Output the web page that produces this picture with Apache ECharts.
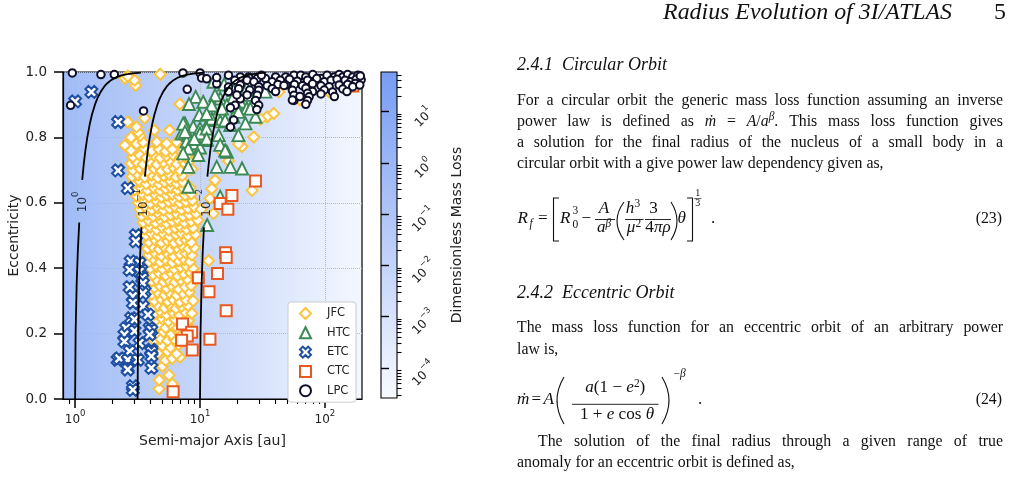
<!DOCTYPE html>
<html><head><meta charset="utf-8">
<script src="https://cdn.jsdelivr.net/npm/echarts@6.0.0/dist/echarts.min.js"></script>
<style>html,body{margin:0;padding:0;background:#fff}#c{width:1010px;height:479px}</style>
</head><body><div id="c"></div>
<script>
// ---------------- DATA ----------------
// [semi-major axis au, eccentricity]
const jfc = [
[4.7,0.031],[6.0,0.046],[4.7,0.058],[5.65,0.073],[5.0,0.10],
[5.3,0.118],[6.0,0.124],[6.9,0.128],[4.6,0.14],[5.5,0.145],[6.5,0.138],
[4.4,0.16],[5.0,0.163],[5.8,0.158],[6.7,0.166],
[4.3,0.18],[4.8,0.185],[5.5,0.178],[6.2,0.183],[7.3,0.176],
[4.4,0.20],[5.1,0.205],[5.9,0.198],[6.8,0.202],[7.6,0.21],
[4.2,0.22],[4.7,0.226],[5.3,0.218],[6.0,0.224],[6.6,0.217],[7.9,0.228],
[4.4,0.24],[5.0,0.245],[5.6,0.238],[6.3,0.243],[7.2,0.247],[8.1,0.24],
[4.3,0.26],[4.9,0.265],[5.4,0.258],[6.1,0.263],[6.8,0.257],[7.6,0.266],[8.6,0.262],
[4.2,0.28],[4.6,0.285],[5.2,0.278],[5.8,0.284],[6.4,0.277],[7.1,0.283],[8.0,0.286],
[4.3,0.30],[4.9,0.305],[5.5,0.298],[6.1,0.304],[6.9,0.297],[7.7,0.303],[8.8,0.30],
[4.1,0.32],[4.6,0.325],[5.2,0.318],[5.7,0.324],[6.5,0.317],[7.3,0.323],[8.2,0.327],
[4.3,0.34],[4.8,0.345],[5.4,0.338],[6.0,0.344],[6.7,0.337],[7.6,0.343],[8.5,0.347],
[4.1,0.36],[4.5,0.365],[5.1,0.358],[5.6,0.364],[6.3,0.357],[7.0,0.363],[7.9,0.366],
[4.2,0.38],[4.7,0.385],[5.3,0.378],[5.9,0.384],[6.6,0.377],[7.4,0.383],[8.4,0.386],[9.3,0.379],
[4.0,0.40],[4.5,0.405],[5.0,0.398],[5.6,0.404],[6.2,0.397],[7.0,0.403],[7.8,0.406],[8.8,0.399],
[3.9,0.42],[4.3,0.425],[4.8,0.418],[5.4,0.424],[6.0,0.417],[6.7,0.423],[7.5,0.426],[8.3,0.419],[11.7,0.423],
[3.9,0.44],[4.4,0.445],[4.9,0.438],[5.5,0.444],[6.1,0.437],[6.9,0.443],[7.7,0.446],[8.6,0.44],
[3.8,0.46],[4.2,0.465],[4.7,0.458],[5.2,0.464],[5.8,0.457],[6.5,0.463],[7.3,0.466],[8.1,0.459],[9.0,0.463],
[3.9,0.48],[4.4,0.485],[4.9,0.478],[5.5,0.484],[6.2,0.477],[6.9,0.483],[7.7,0.486],[8.5,0.479],
[3.7,0.50],[4.1,0.505],[4.6,0.498],[5.1,0.504],[5.7,0.497],[6.4,0.503],[7.1,0.506],[8.0,0.499],[9.2,0.503],
[3.6,0.52],[4.0,0.525],[4.5,0.518],[5.0,0.524],[5.6,0.517],[6.3,0.523],[7.0,0.526],[7.8,0.519],[8.8,0.523],
[3.5,0.54],[3.9,0.545],[4.4,0.538],[4.9,0.544],[5.4,0.537],[6.0,0.543],[6.7,0.546],[7.5,0.539],[8.5,0.543],[9.6,0.547],
[3.4,0.56],[3.8,0.565],[4.2,0.558],[4.7,0.564],[5.2,0.557],[5.8,0.563],[6.5,0.566],[7.3,0.559],[8.2,0.563],[9.3,0.567],[12.8,0.567],
[3.3,0.58],[3.7,0.585],[4.1,0.578],[4.6,0.584],[5.1,0.577],[5.7,0.583],[6.4,0.586],[7.1,0.579],[8.0,0.583],[9.0,0.587],[10.2,0.58],
[3.2,0.60],[3.6,0.605],[4.0,0.598],[4.5,0.604],[5.0,0.597],[5.6,0.603],[6.2,0.606],[6.9,0.599],[7.7,0.603],[8.7,0.607],[12.0,0.613],
[3.1,0.62],[3.5,0.625],[3.9,0.618],[4.4,0.624],[4.9,0.617],[5.4,0.623],[6.0,0.626],[6.8,0.619],[7.6,0.623],[8.5,0.627],
[3.0,0.64],[3.4,0.645],[3.8,0.638],[4.3,0.644],[4.8,0.637],[5.3,0.643],[5.9,0.646],[6.6,0.639],[7.4,0.643],[8.3,0.647],[12.4,0.643],[26.1,0.638],
[2.9,0.66],[3.3,0.665],[3.7,0.658],[4.2,0.664],[4.7,0.657],[5.2,0.663],[5.8,0.666],[6.5,0.659],[7.3,0.663],[13.2,0.669],
[2.85,0.68],[3.2,0.685],[3.6,0.678],[4.1,0.684],[4.6,0.677],[5.1,0.683],[5.7,0.686],[6.4,0.679],[7.2,0.683],
[2.9,0.70],[3.3,0.705],[3.8,0.698],[4.3,0.704],[4.9,0.697],[5.5,0.703],[6.2,0.706],[6.9,0.699],[8.6,0.703],
[2.8,0.72],[3.1,0.725],[3.5,0.718],[4.0,0.724],[4.5,0.717],[5.1,0.723],[5.8,0.726],[6.5,0.719],[7.4,0.723],[8.2,0.727],[16.9,0.728],
[2.9,0.74],[3.3,0.745],[3.7,0.738],[4.3,0.744],[4.8,0.737],[5.4,0.743],[6.1,0.746],[7.0,0.739],[7.8,0.743],[9.4,0.749],[15.9,0.75],
[2.8,0.76],[3.6,0.765],[4.1,0.758],[4.7,0.764],[5.3,0.757],[6.0,0.763],[7.3,0.766],[14.9,0.758],
[2.5,0.776],[3.1,0.78],[3.5,0.785],[4.5,0.786],[5.4,0.781],[6.5,0.786],[21.7,0.772],[20.3,0.78],
[2.8,0.80],[3.3,0.805],[4.3,0.822],[5.7,0.822],[26.9,0.801],[11.0,0.796],
[3.2,0.815],[3.1,0.832],[2.64,0.847],[3.6,0.859],
[34.5,0.863],[38.9,0.873],[30.5,0.855],
[6.9,0.902],[63,0.915],[42.8,0.939],[108,0.939],
[3.05,0.959],[2.99,0.975],[2.5,0.981],[2.64,0.987],[4.8,0.993]
];
const htc = [
[9.23,0.924],[8.16,0.902],[10.6,0.909],[9.87,0.869],[11.9,0.853],[7.58,0.843],[8.83,0.833],[10.0,0.828],
[7.12,0.812],[8.05,0.807],[10.0,0.812],[11.9,0.807],[7.81,0.787],[9.09,0.782],[11.3,0.792],[8.05,0.766],
[10.0,0.769],[7.33,0.751],[14.1,0.807],[16.4,0.756],[13.6,0.710],[17.5,0.710],[21.7,0.705],[8.05,0.710],
[8.05,0.649],[14.5,0.619],[11.4,0.532],[12.8,0.970],[15.6,0.962],[18.5,0.945],[23.7,0.950],[33.3,0.940],
[14.5,0.919],[18.5,0.924],[21.0,0.909],[24.5,0.930],[16.4,0.899],[19.8,0.894],[23.7,0.889],[26.9,0.909],
[13.6,0.869],[18.5,0.863],[23.1,0.843],[27.8,0.863],[14.5,0.849],[17.5,0.838],[20.3,0.807],[14.5,0.777],
[9.69,0.746],[13.2,0.929],[12.4,0.898],[15.0,0.888],[20.3,0.878],[25.3,0.888],[12.4,0.857],[15.9,0.852],
[11.3,0.827],[15.9,0.760],[11.3,0.872],[7.33,0.842],[7.58,0.817],[11.3,0.796],[9.0,0.795]
];
const etcPts = [
[1.35,0.939],[1.0,0.910],[2.21,0.847],[2.21,0.699],[2.64,0.645],
[3.06,0.501],[3.06,0.482],[2.78,0.421],[3.28,0.416],[2.73,0.395],[3.39,0.395],[3.28,0.389],[3.45,0.370],
[2.73,0.342],[3.49,0.354],[3.60,0.329],[3.49,0.323],[2.90,0.314],[2.90,0.294],[3.49,0.283],[3.83,0.258],
[2.81,0.247],[2.99,0.243],[2.56,0.217],[3.95,0.217],[4.08,0.211],[2.99,0.208],[2.48,0.197],[3.95,0.197],
[2.48,0.176],[3.28,0.171],[2.73,0.146],[4.08,0.151],[4.08,0.145],[2.19,0.120],[2.26,0.124],[2.64,0.120],
[3.18,0.120],[4.08,0.131],[2.64,0.095],[4.08,0.095],[2.64,0.090],[2.90,0.039],[2.90,0.028]
];
const ctc = [
[27.8,0.667],[18.0,0.622],[14.5,0.598],[16.7,0.580],[16.0,0.447],[16.2,0.433],[13.8,0.384],[9.69,0.371],
[11.8,0.328],[16.2,0.270],[7.25,0.229],[8.57,0.204],[7.90,0.193],[7.12,0.180],[12.0,0.183],[8.67,0.150],
[6.09,0.022],[167,0.957]
];
const lpc = [
[0.92,0.898],[0.95,0.997],[1.61,0.992],[2.06,0.992],[3.53,0.881],[7.9,0.947],[7.3,0.997],[10.0,0.997],[10.3,0.982],[11.3,0.979],
[13.6,0.964],[16.9,0.990],[21.0,0.985],[24.5,0.985],[28.7,0.980],[33.4,0.980],[40.3,0.985],[48.5,0.985],[56.5,0.990],[64,0.990],
[70.3,0.985],[80,0.992],[92.9,0.980],[104,0.990],[119,0.985],[130,0.992],[139,0.985],[152,0.992],[167,0.985],[184,0.990],[195,0.976],
[13.6,0.983],[19.0,0.975],[23.8,0.975],[27.0,0.970],[31,0.990],[37.8,0.970],[44,0.975],[52,0.978],[60,0.972],[72.5,0.975],
[86,0.980],[98.7,0.970],[112,0.975],[125,0.978],[145,0.975],[160,0.970],[178,0.978],[192,0.988],
[16.9,0.954],[21,0.96],[29.5,0.955],[34.5,0.958],[42,0.962],[48.5,0.960],[57,0.962],[66,0.958],[79.6,0.964],[92.9,0.958],
[108,0.955],[130,0.96],[152,0.962],[175,0.965],
[16.9,0.940],[20.4,0.949],[25,0.945],[37.8,0.949],[47,0.959],[54.9,0.944],[70.3,0.950],[79.6,0.940],[98.7,0.945],[115,0.939],
[139,0.948],[167,0.955],[190,0.96],
[23.8,0.93],[29.5,0.944],[40.3,0.94],[56.5,0.929],[72.5,0.935],[92.9,0.933],[119,0.925],[150,0.940],
[21,0.918],[28.7,0.929],[27.8,0.913],[56.5,0.913],[74.7,0.924],[72.5,0.913],[54.9,0.914],[70.3,0.901],[63,0.925],
[29.5,0.898],[19.1,0.898],[17.5,0.891],[18.6,0.853],[17.5,0.832],[19.7,0.93],[28.5,0.885]
];
// contour lines of the dimensionless mass loss, split around the inline labels
const contour0Lower = [[1.0,0],[1.009,0.2],[1.029,0.35],[1.051,0.45],[1.079,0.54]];
const contour0Upper = [[1.140,0.67],[1.174,0.72],[1.209,0.76],[1.252,0.8],[1.309,0.84],[1.365,0.87],[1.441,0.9],[1.510,0.92],[1.605,0.94],[1.707,0.955],[1.802,0.965],[1.939,0.975],[2.107,0.983],[2.318,0.989],[2.558,0.993],[2.895,0.996],[3.37,0.998]];
const contour1Lower = [[3.162,0],[3.191,0.2],[3.254,0.35],[3.323,0.45],[3.40,0.525]];
const contour1Upper = [[3.62,0.68],[3.712,0.72],[3.823,0.76],[3.959,0.8],[4.139,0.84],[4.316,0.87],[4.557,0.9],[4.775,0.92],[5.075,0.94],[5.398,0.955],[5.698,0.965],[6.131,0.975],[6.662,0.983],[7.330,0.989],[8.089,0.993],[9.154,0.996],[10.66,0.998]];
const contour2Lower = [[10,0],[10.09,0.2],[10.29,0.35],[10.51,0.45],[10.75,0.525]];
const contour2Upper = [[11.45,0.68],[11.74,0.72],[12.09,0.76],[12.52,0.8],[13.09,0.84],[13.65,0.87],[14.41,0.9],[15.10,0.92],[16.05,0.94],[17.07,0.955],[18.02,0.965],[19.39,0.975],[21.07,0.983],[23.18,0.989],[25.58,0.993],[28.95,0.996],[33.7,0.998]];
const contourLabels = [['0',1.10,0.603],['\u22121',3.42,0.60],['\u22122',10.8,0.60]];
// ticks
const majorX = [1,10,100];
const minorX = [0.9,2,3,4,5,6,7,8,9,20,30,40,50,60,70,80,90];
const majorC = [1e-4,1e-3,1e-2,1e-1,1,10];
const minorC = [3e-5,4e-5,5e-5,6e-5,7e-5,8e-5,9e-5,2e-4,3e-4,4e-4,5e-4,6e-4,7e-4,8e-4,9e-4,
 2e-3,3e-3,4e-3,5e-3,6e-3,7e-3,8e-3,9e-3,0.02,0.03,0.04,0.05,0.06,0.07,0.08,0.09,
 0.2,0.3,0.4,0.5,0.6,0.7,0.8,0.9,2,3,4,5,6,7,8,9,20,30,40,50];
const legendNames = ['JFC','HTC','ETC','CTC','LPC'];

// ---------------- CHART ----------------
const SANS = 'DejaVu Sans';
const TXT = '#222';
function powLabel(v){ const n = Math.round(Math.log10(v)); return '{b|10}{s|' + String(n).replace('-', '\u2212') + '}'; }
const supRich = {
  b: {fontSize: 12, fontFamily: SANS, color: TXT, lineHeight: 13, padding: [5,0,0,0]},
  s: {fontSize: 8.5, fontFamily: SANS, color: TXT, lineHeight: 10, padding: [0,0,8,0]}
};
const XPATH = 'path://M2.6,0L5,2.4L7.4,0L10,2.6L7.6,5L10,7.4L7.4,10L5,7.6L2.6,10L0,7.4L2.4,5L0,2.6Z';
function sc(name, data, symbol, size, col, bw){
  return {name, type:'scatter', xAxisIndex:0, yAxisIndex:0, data, symbol, symbolSize:size,
    itemStyle:{color:'#ffffff', borderColor:col, borderWidth:bw, opacity:1}, emphasis:{disabled:true}, z:2};
}
function cl(data){
  return {type:'line', xAxisIndex:0, yAxisIndex:0, data, showSymbol:false, symbol:'none', silent:true,
    lineStyle:{color:'#000', width:1.8}, z:3};
}

// ---------------- PAGE TEXT (graphic) ----------------
const mctx = document.createElement('canvas').getContext('2d');
const SERIF = '"Liberation Serif", "Times New Roman", serif';
function fnt(sz,it){ return (it?'italic ':'') + sz + 'px ' + SERIF; }
function mw(t,sz,it){ mctx.font = fnt(sz,it); return mctx.measureText(t).width; }
const INK = '#111111';
const els = [];
function tb(x, base, t, sz, it, align){
  const a = align || 'left';
  els.push({type:'text', silent:true, x:x, y:base - 0.3375*sz,
    style:{text:t, font:fnt(sz,it), fill:INK, textAlign:a, textVerticalAlign:'middle', align:a, verticalAlign:'middle'}});
}
function hline(x1,x2,y,w){ els.push({type:'line', silent:true, shape:{x1:x1,y1:y,x2:x2,y2:y}, style:{stroke:INK, lineWidth:w||0.9}}); }
function poly(pts){ els.push({type:'polyline', silent:true, shape:{points:pts}, style:{stroke:INK, lineWidth:1.1, fill:null}}); }
function paren(xl, xr, y1, y2, left){
  const xe = left ? xr : xl, xc = left ? xr - 2*(xr-xl) : xl + 2*(xr-xl);
  els.push({type:'bezierCurve', silent:true, shape:{x1:xe,y1:y1,x2:xe,y2:y2,cpx1:xc,cpy1:(y1+y2)/2}, style:{stroke:INK, lineWidth:1.1, fill:null}});
}
function seq(x, base, parts, center){
  const w = parts.reduce((s,p)=>s+mw(p[0],p[1],p[2]),0);
  let xx = center ? x - w/2 : x;
  parts.forEach(p=>{ tb(xx, base + (p[3]||0), p[0], p[1], p[2]); xx += mw(p[0],p[1],p[2]); });
}
function jline(words, x0, x1, base, sz, justify){
  const ws = words.map(w => (typeof w === 'string' ? [[w,sz,false,0]] : w));
  const wid = ws.map(w => w.reduce((s,p)=>s+mw(p[0],p[1],p[2]),0));
  const tot = wid.reduce((a,b)=>a+b,0);
  const gap = justify ? (x1-x0-tot)/(ws.length-1) : mw(' ',sz,false);
  let x = x0;
  ws.forEach((w,i)=>{ let xx = x; w.forEach(p=>{ tb(xx, base+(p[3]||0), p[0], p[1], p[2]); xx += mw(p[0],p[1],p[2]); }); x += wid[i] + gap; });
}

let bs = 16 * 367 / mw('circular orbit with a give power law dependency given as,', 16, false);
bs = Math.max(15, Math.min(17.5, bs));
const hs = 22 * 289 / mw('Radius Evolution of 3I/ATLAS', 22, true);
const ss = 16 * 105 / mw('Circular Orbit', 16, true);
const ms = bs * 1.08;
const sm = bs * 0.72;

tb(952, 21, 'Radius Evolution of 3I/ATLAS', hs, true, 'right');
tb(1006, 21, '5', hs, false, 'right');
tb(517, 71, '2.4.1', ss, true);
tb(562, 71, 'Circular Orbit', ss, true);
const L = 517, R = 1003;
jline('For a circular orbit the generic mass loss function assuming an inverse'.split(' '), L, R, 106, bs, true);
jline(['power','law','is','defined','as',[['\u1E41',bs,true,0]],[['=',bs,false,0]],
  [['A',bs,true,0],['/',bs,false,0],['a',bs,true,0],['\u03B2',sm,true,-6],['.',bs,false,0]],
  'This','mass','loss','function','gives'], L, R, 127, bs, true);
jline('a solution for the final radius of the nucleus of a small body in a'.split(' '), L, R, 148, bs, true);
jline('circular orbit with a give power law dependency given as,'.split(' '), L, R, 169, bs, false);
// equation 23
tb(517.5, 224, 'R', ms, true); tb(529.5, 227.5, 'f', sm, true);
tb(538, 224, '=', ms, false);
poly([[559,198],[553.5,198],[553.5,241],[559,241]]);
tb(560, 224, 'R', ms, true); tb(572.5, 214.5, '3', sm, false); tb(572.5, 229, '0', sm, false);
tb(581.5, 224, '\u2212', ms, false);
seq(604, 214, [['A',ms,true,0]], true);
hline(595, 615, 219.5);
seq(604, 233, [['a',ms,true,0],['\u03B2',sm,true,-5]], true);
paren(617, 624, 202, 240, true);
seq(633, 214, [['h',ms,true,0],['3',sm,false,-6]], true);
hline(625, 643.5, 219.5);
seq(634, 233, [['\u03BC',ms,true,0],['2',sm,false,-5]], true);
seq(653.5, 214, [['3',ms,false,0]], true);
hline(645, 671, 219.5);
seq(658, 233, [['4',ms,false,0],['\u03C0\u03C1',ms,true,0]], true);
paren(671, 677, 202, 240, false);
tb(677.5, 224, '\u03B8', ms, true);
poly([[687,198],[692.5,198],[692.5,241],[687,241]]);
seq(697.8, 196.5, [['1',10,false,0]], true);
hline(694.2, 701.4, 198.6, 0.7);
seq(697.8, 206.8, [['3',10,false,0]], true);
tb(711, 224, '.', ms, false);
tb(1002, 224, '(23)', bs, false, 'right');
// 2.4.2
tb(517, 299, '2.4.2', ss, true);
tb(562, 299, 'Eccentric Orbit', ss, true);
jline('The mass loss function for an eccentric orbit of an arbitrary power'.split(' '), L, R, 333, bs, true);
jline('law is,'.split(' '), L, R, 355, bs, false);
// equation 24
tb(517, 405, '\u1E41', ms, true);
tb(531.5, 405, '=', ms, false);
tb(543.5, 405, 'A', ms, true);
paren(557, 564, 377, 424, true);
seq(615.3, 393.5, [['a',ms,true,0],['(1 \u2212 ',ms,false,0],['e',ms,true,0],['2',sm,false,-6],[')',ms,false,0]], true);
hline(572, 658.5, 404.3);
seq(617, 420, [['1 + ',ms,false,0],['e',ms,true,0],[' cos ',ms,false,0],['\u03B8',ms,true,0]], true);
paren(662, 669, 377, 424, false);
seq(673.5, 378, [['\u2212',sm,false,0],['\u03B2',sm,true,0]], false);
tb(698, 405, '.', ms, false);
tb(1002, 405, '(24)', bs, false, 'right');
jline('The solution of the final radius through a given range of true'.split(' '), 538, R, 447, bs, true);
jline('anomaly for an eccentric orbit is defined as,'.split(' '), L, R, 468, bs, false);

// ---------------- OPTION ----------------
const chart = echarts.init(document.getElementById('c'), null, {renderer:'canvas'});
const option = {
  animation: false,
  backgroundColor: '#ffffff',
  textStyle: {fontFamily: SANS},
  grid: [
    {left:63, top:72, width:299, height:327, show:true, borderColor:'#000', borderWidth:1.2,
     backgroundColor: new echarts.graphic.LinearGradient(0,0,1,0,[{offset:0,color:'#a0bbf6'},{offset:1,color:'#f4f7fe'}])},
    {left:381, top:72, width:16, height:326, show:true, borderColor:'#000', borderWidth:1.1,
     backgroundColor: new echarts.graphic.LinearGradient(0,0,0,1,[{offset:0,color:'#769cf3'},{offset:1,color:'#f8faff'}])}
  ],
  xAxis: [
    {gridIndex:0, type:'log', logBase:10, min:0.8, max:198,
     axisLine:{show:true, lineStyle:{color:'#000', width:1.2}},
     axisTick:{show:true, customValues:majorX, length:9, lineStyle:{color:'#000', width:1.5}},
     axisLabel:{show:true, customValues:majorX, formatter:powLabel, rich:supRich, margin:12},
     splitLine:{show:true, lineStyle:{color:'#b9b9b9', type:'dotted', width:1}},
     name:'Semi-major Axis [au]', nameLocation:'middle', nameGap:35,
     nameTextStyle:{fontSize:14, fontFamily:SANS, color:TXT}},
    {gridIndex:0, type:'log', logBase:10, min:0.8, max:198, position:'bottom',
     axisLine:{show:false}, axisTick:{show:true, customValues:minorX, length:5, lineStyle:{color:'#000', width:1.1}},
     axisLabel:{show:false}, splitLine:{show:false}},
    {gridIndex:1, type:'value', min:0, max:1, show:false}
  ],
  yAxis: [
    {gridIndex:0, type:'value', min:0, max:1, interval:0.2,
     axisLine:{show:true, lineStyle:{color:'#000', width:1.2}},
     axisTick:{show:true, length:9, lineStyle:{color:'#000', width:1.5}},
     axisLabel:{formatter:v=>v.toFixed(1), fontSize:13.5, fontFamily:SANS, color:TXT, margin:16},
     splitLine:{show:true, lineStyle:{color:'#b9b9b9', type:'dotted', width:1}},
     name:'Eccentricity', nameLocation:'middle', nameGap:42,
     nameTextStyle:{fontSize:14, fontFamily:SANS, color:TXT}},
    {gridIndex:1, type:'log', logBase:10, min:2.6e-5, max:59, position:'right',
     axisLine:{show:false},
     axisTick:{show:true, customValues:majorC, length:8, lineStyle:{color:'#000', width:1.4}},
     axisLabel:{show:true, customValues:majorC, formatter:powLabel, rich:supRich, rotate:45, align:'center', verticalAlign:'top', margin:21},
     splitLine:{show:false},
     name:'Dimensionless Mass Loss', nameLocation:'middle', nameGap:53, nameRotate:90,
     nameTextStyle:{fontSize:14, fontFamily:SANS, color:TXT}},
    {gridIndex:1, type:'log', logBase:10, min:2.6e-5, max:59, position:'right',
     axisLine:{show:false},
     axisTick:{show:true, customValues:minorC, length:4.5, lineStyle:{color:'#000', width:1.1}},
     axisLabel:{show:false}, splitLine:{show:false}}
  ],
  legend: {
    data: legendNames, orient:'vertical', left:288, top:302, selectedMode:false,
    backgroundColor:'#ffffff', borderColor:'#cccccc', borderWidth:1, borderRadius:3,
    padding:[5,6,5,11], itemWidth:11, itemHeight:11, itemGap:6.3,
    textStyle:{fontSize:11.5, fontFamily:SANS, color:TXT, padding:[0,0,0,11]}
  },
  series: [
    sc('JFC', jfc, 'diamond', 11, '#fcc43e', 2),
    sc('HTC', htc, 'triangle', 12, '#3b8a56', 1.9),
    sc('ETC', etcPts, XPATH, 12, '#1e4fa0', 2),
    sc('CTC', ctc, 'rect', 11, '#e9581e', 2),
    sc('LPC', lpc, 'circle', 7.5, '#0f0f2b', 2),
    cl(contour0Lower), cl(contour0Upper), cl(contour1Lower), cl(contour1Upper), cl(contour2Lower), cl(contour2Upper),
    {type:'scatter', xAxisIndex:0, yAxisIndex:0, silent:true, symbolSize:1, itemStyle:{color:'rgba(0,0,0,0)'}, z:4,
     data: contourLabels.map(l => ({value:[l[1], l[2]], label:{formatter:'{b|10}{s|' + l[0] + '}'}})),
     label:{show:true, position:'inside', rotate:90, rich:{
       b:{fontSize:12, fontFamily:SANS, color:'#000', lineHeight:13, padding:[5,0,0,0]},
       s:{fontSize:8.5, fontFamily:SANS, color:'#000', lineHeight:10, padding:[0,0,8,0]}}}}
  ],
  graphic: {elements: els}
};
chart.setOption(option);
</script></body></html>
